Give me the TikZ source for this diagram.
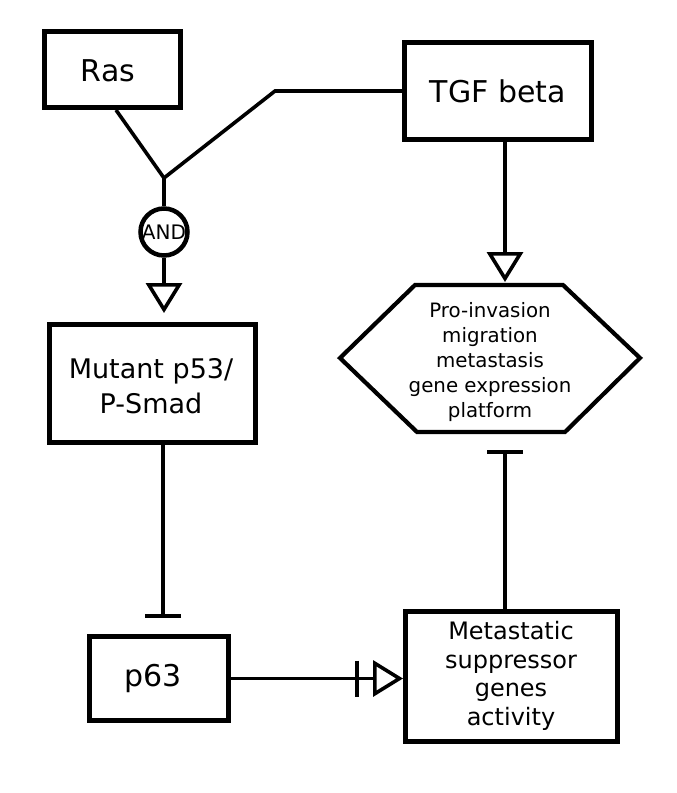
\documentclass[tikz,border=0pt]{standalone}
\usepackage{fontspec}
\setmainfont{DejaVu Sans}
\usetikzlibrary{arrows.meta}
\begin{document}
\begin{tikzpicture}[x=1pt,y=-1pt,
  box/.style={draw,line width=5pt,inner sep=0pt,align=center},
  conn/.style={line width=3.6pt},
  act/.style={conn,-{Triangle[open,length=30pt,width=36pt]}},
  inh/.style={conn,-{Bar[width=36pt]}},
  fA/.style={font=\fontsize{30}{35}\selectfont},
  fB/.style={font=\fontsize{27}{35}\selectfont},
  fC/.style={font=\fontsize{24}{28.5}\selectfont},
  fD/.style={font=\fontsize{19.8}{25}\selectfont}]
\useasboundingbox (0,0) rectangle (677,793);
\fill[white] (0,0) rectangle (677,793);
% boxes
\node[box,minimum width=136pt,minimum height=76pt] (ras) at (112.5,69.5) {};
\node[fA] (rast) at (108,71) {Ras};
\node[box,minimum width=187pt,minimum height=97pt,fA] (tgf) at (498,91) {TGF beta};
\node[box,minimum width=206pt,minimum height=118pt] (mut) at (152.5,383.5) {};
\node[fB,align=center] (mutt) at (151,386) {Mutant p53/\\P-Smad};
\node[box,minimum width=139pt,minimum height=84pt] (p63) at (159,678.5) {};
\node[fA] (p63t) at (153,678) {p63};
\node[box,minimum width=212pt,minimum height=130pt] (met) at (511.5,676.5) {};
\node[fC,align=center] (mett) at (511,676) {Metastatic\\suppressor\\genes\\activity};
% hexagon
\draw[line width=4.2pt,line join=miter]
  (415,285) -- (563,285) -- (640,358) -- (565,432) -- (417,432) -- (340,358) -- cycle;
\node[fD,align=center] (hex) at (490,362) {Pro-invasion\\migration\\metastasis\\gene expression\\platform};
\coordinate (hextop) at (505,285);
\coordinate (hexbot) at (505,432);
% AND gate
\coordinate (j) at (164,178);
\coordinate (bend) at (275,91);
\node[draw,circle,line width=4.5pt,minimum size=47pt,inner sep=0pt,font=\fontsize{20}{21}\selectfont] (and) at (164,232) {AND};
% connectors
\draw[conn] ([xshift=3.5pt]ras.south) -- (j);
\draw[conn] (tgf.west) -- (bend) -- (j);
\draw[conn] (j) -- (and.north);
\draw[act,shorten >=9pt] (and.south) -- (mut.north -| and.south);
\draw[act,shorten >=3pt] (tgf.south -| hextop) -- (hextop);
\draw[inh,shorten >=16pt] (mut.south -| 163,0) -- (p63.north -| 163,0);
\draw[inh,shorten >=18pt] (met.north -| hexbot) -- (hexbot);
\draw[conn,-{Bar[width=36pt,sep=14pt] Triangle[open,length=30pt,width=36pt]}] (p63.east) -- (met.west |- p63.east);
\end{tikzpicture}
\end{document}
